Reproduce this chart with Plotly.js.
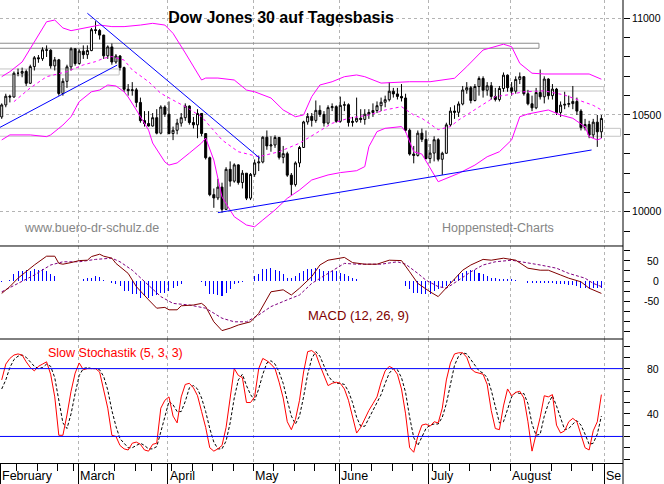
<!DOCTYPE html>
<html><head><meta charset="utf-8">
<script src="https://cdn.plot.ly/plotly-3.0.1.min.js"></script>
<style>html,body{margin:0;padding:0;background:#fff;}#chart{width:664px;height:484px;}</style>
</head><body><div id="chart"></div>
<script>
// ---------- trading days 2005 ----------
const febDays=[1,2,3,4,7,8,9,10,11,14,15,16,17,18,22,23,24,25,28];
const marDays=[1,2,3,4,7,8,9,10,11,14,15,16,17,18,21,22,23,24,28,29,30,31];
const aprDays=[1,4,5,6,7,8,11,12,13,14,15,18,19,20,21,22,25,26,27,28,29];
const mayDays=[2,3,4,5,6,9,10,11,12,13,16,17,18,19,20,23,24,25,26,27,31];
const junDays=[1,2,3,6,7,8,9,10,13,14,15,16,17,20,21,22,23,24,27,28,29,30];
const julDays=[1,5,6,7,8,11,12,13,14,15,18,19,20,21,22,25,26,27,28,29];
const augDays=[1,2,3,4,5,8,9,10,11,12,15,16,17,18,19,22,23,24,25,26,29,30,31];
const monthLabels=['February','March','April','May','June','July','August','Se'];

// ---------- OHLC ----------
const openP=[10490,10552,10597,10593,10716,10716,10725,10664,10750,10796,
10791,10837,10835,10754,10785,10611,10674,10749,10842,10766,
10830,10812,10833,10941,10937,10913,10806,10852,10774,10805,
10745,10633,10626,10630,10565,10471,10456,10443,10486,10406,
10541,10504,10404,10421,10458,10486,10546,10461,10449,10508,
10404,10279,10088,10071,10127,10012,10219,10158,10242,10151,
10199,10070,10193,10252,10257,10385,10340,10345,10384,10281,
10300,10189,10140,10252,10332,10464,10493,10472,10524,10503,
10458,10538,10543,10467,10550,10553,10461,10467,10483,10477,
10504,10513,10523,10548,10566,10579,10623,10609,10596,10588,
10421,10298,10291,10406,10374,10275,10303,10372,10271,10302,
10449,10520,10514,10557,10629,10641,10575,10647,10689,10628,
10651,10596,10580,10637,10706,10641,10623,10684,10698,10610,
10558,10537,10616,10594,10686,10600,10634,10513,10551,10555,
10559,10570,10520,10435,10451,10397,10463,10413];
const highP=[10560,10610,10605,10725,10740,10745,10735,10760,10805,10810,
10850,10860,10840,10800,10790,10690,10760,10850,10845,10840,
10860,10860,10950,10985,10945,10915,10860,10870,10815,10810,
10750,10660,10670,10640,10590,10520,10520,10510,10530,10550,
10550,10570,10440,10480,10510,10560,10550,10490,10530,10510,
10405,10285,10120,10170,10150,10230,10260,10250,10245,10215,
10200,10200,10270,10290,10390,10420,10390,10395,10385,10340,
10310,10200,10260,10340,10470,10510,10510,10575,10550,10520,
10550,10560,10550,10595,10570,10560,10490,10590,10530,10530,
10530,10560,10570,10590,10600,10670,10640,10640,10660,10610,
10430,10340,10420,10430,10420,10350,10390,10380,10310,10460,
10540,10550,10570,10650,10670,10650,10660,10700,10700,10670,
10670,10640,10650,10720,10710,10670,10700,10720,10700,10630,
10600,10640,10735,10700,10690,10660,10640,10570,10620,10600,
10650,10590,10530,10480,10470,10480,10500,10500];
const lowP=[10480,10540,10565,10590,10700,10695,10650,10660,10730,10770,
10780,10800,10740,10730,10600,10600,10640,10730,10755,10760,
10790,10790,10830,10920,10890,10790,10790,10760,10765,10730,
10620,10600,10600,10540,10460,10440,10440,10440,10400,10400,
10490,10400,10370,10400,10440,10470,10450,10430,10380,10390,
10270,10080,10020,10060,9995,10010,10130,10150,10140,10120,
10060,10060,10180,10210,10250,10320,10310,10330,10270,10250,
10180,10085,10130,10230,10330,10450,10440,10460,10490,10440,
10450,10520,10460,10460,10520,10440,10440,10460,10460,10450,
10480,10490,10510,10520,10540,10570,10590,10580,10570,10410,
10290,10250,10285,10360,10270,10250,10260,10260,10190,10300,
10440,10480,10490,10550,10610,10560,10570,10600,10590,10600,
10580,10570,10570,10620,10620,10600,10610,10660,10600,10550,
10520,10530,10580,10560,10580,10580,10500,10490,10530,10540,
10530,10500,10420,10420,10380,10380,10335,10380];
const closeP=[10552,10597,10593,10716,10716,10725,10664,10750,10796,10791,
10837,10835,10754,10785,10611,10674,10749,10842,10766,10830,
10812,10833,10941,10937,10913,10806,10852,10774,10805,10745,
10633,10626,10630,10565,10471,10456,10443,10486,10406,10541,
10504,10404,10421,10458,10486,10546,10461,10449,10508,10404,
10279,10088,10071,10127,10012,10219,10158,10242,10151,10199,
10070,10193,10252,10257,10385,10340,10345,10384,10281,10300,
10189,10140,10252,10332,10464,10493,10472,10524,10503,10458,
10538,10543,10467,10550,10553,10461,10467,10483,10477,10504,
10513,10523,10548,10566,10579,10623,10609,10596,10588,10421,
10298,10291,10406,10374,10275,10303,10372,10271,10302,10449,
10520,10514,10557,10629,10641,10575,10647,10689,10628,10651,
10596,10580,10637,10706,10641,10623,10684,10698,10610,10558,
10537,10616,10594,10686,10600,10634,10513,10551,10555,10559,
10570,10520,10435,10451,10397,10463,10413,10482];

// ---------- Bollinger bands (day index / value) ----------
const upperIdx=[0,2,5,8,11,13,15,17,20,24,27,30,34,37,40,42,45,49,50,53,57,60,62,66,69,72,74,76,78,81,84,87,89,93,100,105,111,114,118,123,125,127,130,133,144,147];
const upperVal=[10698,10724,10774,10879,10982,10991,10950,10936,10950,10965,10957,10957,10965,10974,10965,10922,10821,10681,10691,10691,10681,10629,10620,10588,10526,10491,10500,10595,10655,10672,10698,10707,10698,10665,10672,10672,10690,10750,10836,10866,10853,10767,10716,10712,10712,10685];
const midIdx=[3,5,7,11,16,20,23,25,27,30,32,36,39,42,45,49,52,54,58,63,68,73,77,81,85,90,94,98,101,103,107,110,112,116,118,121,124,128,133,138,141,145,147];
const midVal=[10569,10603,10640,10698,10724,10759,10776,10793,10802,10784,10733,10672,10612,10577,10543,10491,10422,10371,10310,10284,10310,10354,10405,10457,10483,10500,10526,10543,10500,10483,10424,10440,10474,10526,10552,10595,10604,10620,10625,10603,10580,10550,10526];
const lowerIdx=[0,2,7,11,12,15,17,19,22,24,26,28,30,31,33,36,37,40,41,43,46,49,50,52,54,57,60,62,64,67,70,73,76,80,83,87,89,90,92,94,98,99,101,103,107,108,112,116,119,122,125,127,129,134,137,140,143,144,146,147];
const lowerVal=[10371,10397,10397,10388,10397,10448,10491,10569,10620,10629,10655,10650,10620,10593,10526,10422,10355,10257,10241,10252,10303,10355,10381,10267,10076,9974,9931,9922,9957,10009,10069,10112,10164,10190,10202,10212,10233,10336,10414,10431,10440,10414,10310,10298,10155,10164,10198,10241,10284,10310,10371,10491,10505,10526,10500,10483,10439,10388,10371,10379];

// ---------- trend lines (start idx, start value, end idx, end value) ----------
const trendStartIdx=[-0.42,21,53];
const trendStartVal=[10436,11026,9995];
const trendEndIdx=[28.3,63.3,144.6];
const trendEndVal=[10758,10276,10319];

// ---------- horizontal zones ----------
const zoneTop=[10871,10738,10647,10431];
const zoneBottom=[10845,10707,10624,10390];
const zoneEndIdx=[131.7,28.8,147.6,151.7];

// ---------- MACD ----------
const macdIdx=[0,2,4,8,11,13,14,15,17,19,21,22,24,25,27,28,31,33,36,38,40,41,43,44,47,49,50,52,54,56,58,61,63,66,69,71,73,76,78,80,84,86,89,92,95,98,100,102,105,107,110,113,115,118,120,123,126,129,132,134,137,139,142,144,147];
const macdVal=[-31,-14,7,40,62,62,44,42,46,51,52,61,67,62,57,44,19,-14,-47,-68,-66,-72,-72,-62,-60,-56,-64,-102,-124,-118,-110,-102,-81,-27,-22,-35,-18,11,40,52,59,46,42,42,52,51,23,-6,-27,-39,-6,27,40,54,52,57,52,32,27,27,15,7,-2,-18,-31];
const signalIdx=[0,4,8,12,15,19,23,27,29,32,36,39,42,46,50,54,57,60,63,66,70,73,76,80,84,87,93,97,99,102,104,107,109,112,115,118,121,125,129,132,136,139,143,145,147];
const signalVal=[-27,-6,15,40,48,48,54,57,48,27,-10,-39,-56,-60,-68,-93,-102,-102,-85,-64,-47,-35,-6,19,44,42,42,48,42,19,2,-14,-18,2,23,40,48,52,46,40,32,19,7,-6,-14];
const macdHist=[-2,0,2,18,25,25,27,25,29,27,
29,25,17,12,1,1,1,1,1,1,
5,7,7,12,9,3,1,-4,-8,-12,
-25,-25,-33,-33,-42,-38,-42,-38,-35,-30,
-29,-25,-17,-12,-8,0,1,1,1,-2,
-12,-33,-33,-36,-38,-29,-21,-8,-4,-2,
-1,0,12,17,29,29,33,27,25,17,
8,8,12,21,25,29,29,33,29,25,
25,25,25,21,17,12,8,4,0,0,
0,0,0,1,1,1,1,1,0,-12,
-21,-29,-29,-33,-33,-33,-25,-21,-17,-12,
-4,4,17,21,25,27,27,21,17,12,
8,8,6,4,4,4,3,1,-1,-5,
-6,-6,-6,-6,-6,-6,-8,-8,-8,-10,
-10,-12,-17,-17,-21,-17,-17,-17];

// ---------- Slow Stochastik ----------
const stochK=[70,84,89,92,93,92,86,81,78,82,
84,86,75,55,21,21,39,60,76,85,
79,80,80,80,77,62,45,21,20,12,
9,8,14,15,13,8,7,13,14,45,
52,55,38,32,55,66,67,63,56,42,
28,10,7,9,12,28,55,80,74,72,
50,50,55,80,89,87,84,80,68,54,
33,26,35,52,77,95,96,93,83,74,
65,67,68,67,62,52,37,23,28,36,
43,49,55,68,78,82,80,75,62,40,
10,6,20,30,31,29,33,32,45,70,
85,93,94,94,90,80,77,76,75,66,
43,27,26,47,62,56,59,60,54,33,
7,22,37,56,55,57,30,23,25,33,
36,33,22,10,8,25,33,57];
const stochD=[62,70,81,88,91,92,90,86,82,80,
81,84,82,72,50,32,27,40,58,74,
80,81,80,80,79,73,61,43,29,18,
14,10,10,12,14,12,9,9,11,24,
37,51,48,42,42,51,63,65,62,54,
42,27,15,9,9,16,32,54,70,75,
65,57,52,62,75,85,87,84,77,67,
52,38,31,38,55,75,89,95,91,83,
74,69,67,67,66,60,50,37,29,29,
36,43,49,57,67,76,80,79,72,59,
37,19,12,19,27,30,31,31,37,49,
67,83,91,94,93,88,82,78,76,72,
61,45,32,33,45,55,59,58,58,49,
31,21,22,38,49,56,47,37,26,27,
31,34,30,22,13,14,22,38];

// ---------- axis ticks ----------
const priceTicks=[10000,10500,11000];
const macdTicks=[50,0,-50];
const stochTicks=[80,40];
const stochLevels=[80,20];

// ================= build =================
const monthNums=[2,3,4,5,6,7,8];
const monthDayLists=[febDays,marDays,aprDays,mayDays,junDays,julDays,augDays];
const pad=n=>String(n).padStart(2,'0');
const dates=[];
monthNums.forEach((m,k)=>monthDayLists[k].forEach(d=>dates.push('2005-'+pad(m)+'-'+pad(d))));
const xi=dates.map((d,i)=>i);

const monthStart=[0];
for(let i=1;i<dates.length;i++){ if(dates[i].slice(5,7)!==dates[i-1].slice(5,7)) monthStart.push(i); }
monthStart.push(dates.length);
const GRID_SHIFT=-0.3;
const monthTickPos=monthStart.map(i=>i+GRID_SHIFT);
const weekTickPos=[];
for(let i=1;i<dates.length;i++){
  const a=new Date(dates[i-1]+'T00:00:00Z').getUTCDay(), b=new Date(dates[i]+'T00:00:00Z').getUTCDay();
  if(b<=a) weekTickPos.push(i+GRID_SHIFT);
}

const FONT='Liberation Sans, Arial, Helvetica, sans-serif';
const MAG='#ff00ff', BLUE='#0000ff';

const traces=[];
traces.push({type:'candlestick',x:xi,open:openP,high:highP,low:lowP,close:closeP,xaxis:'x',yaxis:'y',
  increasing:{line:{color:'#000',width:1},fillcolor:'#ffffff'},
  decreasing:{line:{color:'#000',width:1},fillcolor:'#000000'},
  whiskerwidth:0,hoverinfo:'skip',showlegend:false});
traces.push({type:'scatter',mode:'lines',x:upperIdx,y:upperVal,line:{color:MAG,width:1},xaxis:'x',yaxis:'y',hoverinfo:'skip'});
traces.push({type:'scatter',mode:'lines',x:lowerIdx,y:lowerVal,line:{color:MAG,width:1},xaxis:'x',yaxis:'y',hoverinfo:'skip'});
traces.push({type:'scatter',mode:'lines',x:midIdx,y:midVal,line:{color:MAG,width:1,dash:'3px,3px'},xaxis:'x',yaxis:'y',hoverinfo:'skip'});
const tx=[],ty=[];
trendStartIdx.forEach((s,k)=>{tx.push(s,trendEndIdx[k],null);ty.push(trendStartVal[k],trendEndVal[k],null);});
traces.push({type:'scatter',mode:'lines',x:tx,y:ty,line:{color:BLUE,width:1},xaxis:'x',yaxis:'y',hoverinfo:'skip',connectgaps:false});

traces.push({type:'bar',x:xi,y:macdHist,width:0.25,marker:{color:BLUE,line:{width:0}},xaxis:'x',yaxis:'y2',hoverinfo:'skip'});
traces.push({type:'scatter',mode:'lines',x:signalIdx,y:signalVal,line:{color:'#800080',width:1,dash:'3px,2px'},xaxis:'x',yaxis:'y2',hoverinfo:'skip'});
traces.push({type:'scatter',mode:'lines',x:macdIdx,y:macdVal,line:{color:'#800000',width:1},xaxis:'x',yaxis:'y2',hoverinfo:'skip'});

traces.push({type:'scatter',mode:'lines',x:xi,y:stochD,line:{color:'#000',width:1,dash:'3px,2px'},xaxis:'x',yaxis:'y3',hoverinfo:'skip'});
traces.push({type:'scatter',mode:'lines',x:xi,y:stochK,line:{color:'#ff0000',width:1},xaxis:'x',yaxis:'y3',hoverinfo:'skip'});

const D1=0.4687, D2=0.2678;
const shapes=[];
zoneTop.forEach((t,k)=>{
  shapes.push({type:'rect',xref:'x',yref:'y',x0:-5,x1:zoneEndIdx[k],y0:zoneBottom[k],y1:t,
    line:{color:k===0?'#8c8c8c':'#c4c4c4',width:1},fillcolor:'rgba(0,0,0,0)',layer:'between'});
});
stochLevels.forEach(v=>shapes.push({type:'line',xref:'paper',yref:'y3',x0:0,x1:1,y0:v,y1:v,line:{color:BLUE,width:1}}));
shapes.push({type:'line',xref:'paper',yref:'paper',x0:0,x1:1,y0:D1,y1:D1,line:{color:'#000',width:1}});
shapes.push({type:'line',xref:'paper',yref:'paper',x0:0,x1:1,y0:D2,y1:D2,line:{color:'#000',width:1}});
shapes.push({type:'line',xref:'paper',yref:'paper',x0:1,x1:1,y0:-0.05,y1:1,line:{color:'#000',width:1}});

const ann=[];
ann.push({text:'www.buero-dr-schulz.de',xref:'paper',yref:'paper',x:22/623,y:(463-228)/463,xanchor:'left',yanchor:'middle',showarrow:false,font:{family:FONT,size:12.5,color:'#858585'}});
ann.push({text:'Hoppenstedt-Charts',xref:'paper',yref:'paper',x:440/623,y:(463-228)/463,xanchor:'left',yanchor:'middle',showarrow:false,font:{family:FONT,size:12.5,color:'#858585'}});
ann.push({text:'MACD (12, 26, 9)',xref:'paper',yref:'paper',x:306/623,y:(463-315)/463,xanchor:'left',yanchor:'middle',showarrow:false,font:{family:FONT,size:13,color:'#800000'}});
ann.push({text:'Slow Stochastik (5, 3, 3)',xref:'paper',yref:'paper',x:46/623,y:(463-352.5)/463,xanchor:'left',yanchor:'middle',showarrow:false,font:{family:FONT,size:12.5,color:'#ff0000'}});
monthLabels.forEach((lab,k)=>ann.push({text:lab,xref:'x',yref:'paper',x:monthTickPos[k],y:(463-476.5)/463,xanchor:'left',yanchor:'middle',xshift:0,showarrow:false,font:{family:FONT,size:12.5,color:'#000'}}));
macdTicks.forEach(v=>ann.push({text:String(v),xref:'paper',yref:'y2',x:661/623,y:v,xanchor:'right',yanchor:'middle',showarrow:false,font:{family:FONT,size:10.5,color:'#000'}}));
stochTicks.forEach(v=>ann.push({text:String(v),xref:'paper',yref:'y3',x:661/623,y:v,xanchor:'right',yanchor:'middle',showarrow:false,font:{family:FONT,size:10.5,color:'#000'}}));

const gridStyle={showgrid:true,gridcolor:'#b4b4b4',griddash:'3px,3px',gridwidth:1};
const layout={
  width:664,height:484,margin:{l:0,r:41,t:0,b:21,pad:0},
  paper_bgcolor:'#ffffff',plot_bgcolor:'#ffffff',showlegend:false,bargap:0,
  font:{family:FONT,size:11,color:'#000'},
  title:{text:'Dow Jones 30 auf Tagesbasis',xref:'container',yref:'container',x:281/664,y:1-17/484,xanchor:'center',yanchor:'middle',font:{family:FONT,size:16,weight:'bold',color:'#000'}},
  xaxis:Object.assign({anchor:'y3',domain:[0,1],range:[-0.42,152.3],type:'linear',
    showline:true,linecolor:'#000',linewidth:1,
    tickmode:'array',tickvals:monthTickPos,ticktext:monthTickPos.map(()=>''),showticklabels:false,
    ticks:'outside',ticklen:20,tickwidth:1,tickcolor:'#000',zeroline:false,
    rangeslider:{visible:false},fixedrange:true,
    minor:{tickmode:'array',tickvals:weekTickPos,ticks:'outside',ticklen:7,tickwidth:1,tickcolor:'#000',showgrid:false}},gridStyle),
  yaxis:Object.assign({domain:[D1,1],range:[9822.6,11094.6],side:'right',anchor:'x',
    tickmode:'array',tickvals:priceTicks,ticktext:priceTicks.map(String),
    ticks:'outside',ticklen:6,tickwidth:1,tickcolor:'#000',tickfont:{family:FONT,size:10.5,color:'#000'},
    zeroline:false,showline:false,fixedrange:true,
    minor:{dtick:100,tick0:0,ticks:'outside',ticklen:6,tickwidth:1,tickcolor:'#000',showgrid:false}},gridStyle),
  yaxis2:{domain:[D2,D1],range:[-145,87.5],side:'right',anchor:'x',
    tickmode:'array',tickvals:macdTicks,showticklabels:false,
    ticks:'outside',ticklen:6,tickwidth:1,tickcolor:'#000',showgrid:false,zeroline:false,showline:false,fixedrange:true,
    minor:{dtick:25,tick0:0,ticks:'outside',ticklen:6,tickwidth:1,tickcolor:'#000',showgrid:false}},
  yaxis3:{domain:[0,D2],range:[-3.5,106.2],side:'right',anchor:'x',
    tickmode:'array',tickvals:stochTicks,showticklabels:false,
    ticks:'outside',ticklen:6,tickwidth:1,tickcolor:'#000',showgrid:false,zeroline:false,showline:false,fixedrange:true,
    minor:{dtick:10,tick0:0,ticks:'outside',ticklen:6,tickwidth:1,tickcolor:'#000',showgrid:false}},
  shapes:shapes,annotations:ann
};
Plotly.newPlot('chart',traces,layout,{staticPlot:true,displayModeBar:false});
</script></body></html>
